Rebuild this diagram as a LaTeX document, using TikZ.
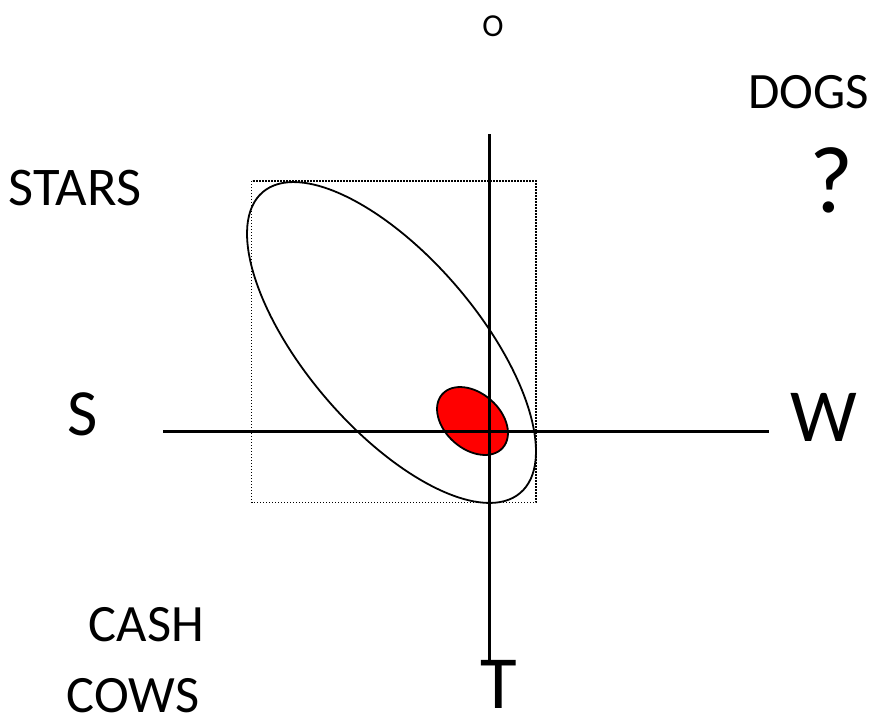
\documentclass[tikz,border=0pt]{standalone}
\usepackage{fontspec}
\setmainfont{Carlito}
\begin{document}
\begin{tikzpicture}[x=1pt,y=-1pt,
  axis/.style={line width=3.6pt},
  outline/.style={line width=1.8pt},
  frame/.style={line width=1.1pt,dash pattern=on 1.2pt off 1.8pt},
  lbl/.style={inner sep=0pt,anchor=center}]
\useasboundingbox (0,0) rectangle (875,713);
% dotted frame
\draw[frame] (251.5,181) rectangle (536,502.5);
% big ellipse
\draw[outline,rotate around={-49.4:(391.5,342.5)}] (391.5,342.5) ellipse [x radius=198, y radius=86];
% red ellipse
\draw[outline,fill=red,rotate around={-41.5:(472.5,421)}] (472.5,421) ellipse [x radius=40.4, y radius=27.9];
% axes
\coordinate (left) at (163,431.5);
\coordinate (right) at (769,431.5);
\coordinate (top) at (489.3,134);
\coordinate (bottom) at (489.3,661);
\draw[axis] (left) -- (right);
\draw[axis] (top) -- (bottom);
% labels
\node[lbl,font=\fontsize{32}{36}\selectfont] (o) at (493,26) {O};
\node[lbl,font=\fontsize{51}{56}\selectfont] (dogs) at (808.5,92.5) {DOGS};
\node[lbl,font=\fontsize{95}{100}\selectfont] (q) at (831.5,180.5) {?};
\node[lbl,font=\fontsize{54.5}{60}\selectfont] (stars) at (75,187.5) {STARS};
\node[lbl,font=\fontsize{66}{70}\selectfont] (s) at (82.5,414) {S};
\node[lbl,font=\fontsize{75}{80}\selectfont] (w) at (824,417) {W};
\node[lbl,font=\fontsize{52.5}{56}\selectfont] (cash) at (146.5,625) {CASH};
\node[lbl,font=\fontsize{52.5}{56}\selectfont] (cows) at (133,695.5) {COWS};
\node[lbl,font=\fontsize{75}{80}\selectfont] (t) at (499,684) {T};
\end{tikzpicture}
\end{document}
